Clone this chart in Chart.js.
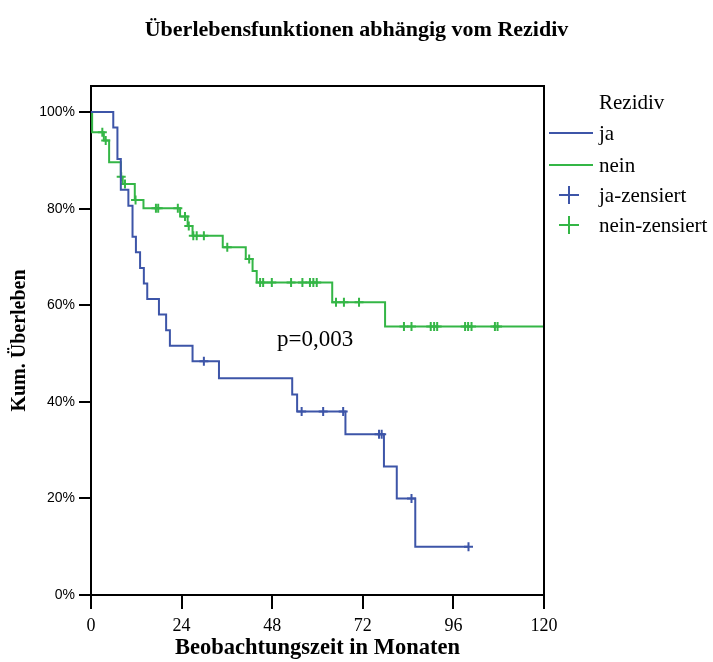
<!DOCTYPE html>
<html>
<head>
<meta charset="utf-8">
<script src="https://cdn.jsdelivr.net/npm/chart.js@4/dist/chart.umd.min.js"></script>
<style>
  html, body { margin: 0; padding: 0; background: #fff; }
  canvas { display: block; }
</style>
</head>
<body>
<canvas id="km" width="713" height="662"></canvas>
<script>
// Axis ticks
const xTicks = [0, 24, 48, 72, 96, 120];
const yTicks = [0, 20, 40, 60, 80, 100];

// Rezidiv = ja : event months and survival (%) after each event
const jaEventMonths = [5.9, 7.0, 7.9, 9.9, 11.0, 11.9, 13.0, 14.0, 14.9, 18.0, 19.9, 20.9, 26.9, 33.9, 53.3, 54.6, 67.4, 77.6, 81.0, 85.9];
const jaSurvival    = [96.8, 90.3, 83.9, 80.6, 74.2, 71.0, 67.7, 64.5, 61.3, 58.1, 54.8, 51.6, 48.4, 44.9, 41.5, 38.0, 33.3, 26.6, 20.0, 10.0];
const jaCensorMonths = [29.9, 55.8, 61.5, 66.8, 76.3, 77.0, 84.9, 100.0];
const jaLastMonth = 100.0;

// Rezidiv = nein
const neinEventMonths = [0.3, 3.4, 4.8, 7.9, 8.4, 11.6, 13.9, 23.6, 25.6, 26.9, 34.9, 41.0, 42.8, 43.9, 63.9, 77.9];
const neinSurvival    = [95.8, 94.1, 89.6, 86.6, 85.1, 81.8, 80.1, 78.4, 76.4, 74.4, 72.0, 69.6, 67.1, 64.7, 60.6, 55.6];
const neinCensorMonths = [3.0, 3.9, 8.0, 9.0, 11.8, 17.2, 17.8, 23.0, 24.9, 25.9, 27.1, 28.0, 29.9, 36.1, 41.9,
                          44.8, 45.6, 47.9, 53.0, 56.0, 58.0, 58.9, 59.8, 64.9, 67.0, 71.0,
                          82.9, 84.9, 90.0, 90.9, 91.7, 99.1, 99.9, 100.8, 107.0, 107.7];
const neinLastMonth = 120.0;

const pValueText = 'p=0,003';

const BLUE = '#3d55a8';
const GREEN = '#34b646';
const SERIF = '"Liberation Serif", "Times New Roman", serif';
const SANS = '"Liberation Sans", Arial, sans-serif';

function stepCurve(times, surv, last) {
  const pts = [{ x: 0, y: 100 }];
  times.forEach((t, i) => pts.push({ x: t, y: surv[i] }));
  pts.push({ x: last, y: surv[surv.length - 1] });
  return pts;
}
function survivalAt(t, times, surv) {
  let s = 100;
  times.forEach((tt, i) => { if (tt <= t) s = surv[i]; });
  return s;
}
function censorPoints(censors, times, surv) {
  return censors.map(t => ({ x: t, y: survivalAt(t, times, surv) }));
}

// Top/right frame of the plot box
const framePlugin = {
  id: 'frame',
  afterDatasetsDraw(chart) {
    const { ctx, chartArea: a } = chart;
    ctx.save();
    ctx.strokeStyle = '#000';
    ctx.lineWidth = 2;
    ctx.beginPath();
    ctx.moveTo(a.left, a.top);
    ctx.lineTo(a.right, a.top);
    ctx.lineTo(a.right, a.bottom);
    ctx.stroke();
    ctx.restore();
  }
};

// Title, p-value note and legend
const annotationsPlugin = {
  id: 'annotations',
  afterDraw(chart) {
    const ctx = chart.ctx;
    ctx.save();
    ctx.fillStyle = '#000';
    ctx.textBaseline = 'middle';

    ctx.font = 'bold 22px ' + SERIF;
    ctx.textAlign = 'center';
    ctx.fillText('Überlebensfunktionen abhängig vom Rezidiv', 356.5, 30);

    ctx.textAlign = 'left';
    ctx.font = '23px ' + SERIF;
    ctx.fillText(pValueText, 277, 340);

    // legend
    const tx = 599;
    ctx.font = '21px ' + SERIF;
    ctx.fillText('Rezidiv', tx, 103);

    const rows = [
      { label: 'ja', color: BLUE, kind: 'line', y: 133 },
      { label: 'nein', color: GREEN, kind: 'line', y: 165 },
      { label: 'ja-zensiert', color: BLUE, kind: 'cross', y: 195 },
      { label: 'nein-zensiert', color: GREEN, kind: 'cross', y: 225 }
    ];
    rows.forEach(r => {
      ctx.strokeStyle = r.color;
      ctx.lineWidth = 2;
      ctx.beginPath();
      if (r.kind === 'line') {
        ctx.moveTo(549, r.y);
        ctx.lineTo(593, r.y);
      } else {
        ctx.moveTo(559, r.y);
        ctx.lineTo(579, r.y);
        ctx.moveTo(569, r.y - 9);
        ctx.lineTo(569, r.y + 9);
      }
      ctx.stroke();
      ctx.fillStyle = '#000';
      ctx.fillText(r.label, tx, r.y + 1);
    });
    ctx.restore();
  }
};

new Chart(document.getElementById('km'), {
  type: 'line',
  data: {
    datasets: [
      {
        label: 'ja',
        data: stepCurve(jaEventMonths, jaSurvival, jaLastMonth),
        stepped: true,
        borderColor: BLUE,
        borderWidth: 2,
        pointRadius: 0,
        fill: false
      },
      {
        label: 'nein',
        data: stepCurve(neinEventMonths, neinSurvival, neinLastMonth),
        stepped: true,
        borderColor: GREEN,
        borderWidth: 2,
        pointRadius: 0,
        fill: false
      },
      {
        label: 'ja-zensiert',
        data: censorPoints(jaCensorMonths, jaEventMonths, jaSurvival),
        showLine: false,
        pointStyle: 'cross',
        pointRadius: 4.5,
        pointBorderWidth: 2,
        pointBorderColor: BLUE,
        borderColor: BLUE
      },
      {
        label: 'nein-zensiert',
        data: censorPoints(neinCensorMonths, neinEventMonths, neinSurvival),
        showLine: false,
        pointStyle: 'cross',
        pointRadius: 4.5,
        pointBorderWidth: 2,
        pointBorderColor: GREEN,
        borderColor: GREEN
      }
    ]
  },
  options: {
    responsive: false,
    animation: false,
    devicePixelRatio: 1,
    layout: { padding: { left: 0, top: 86, right: 169, bottom: 0 } },
    plugins: {
      legend: { display: false },
      tooltip: { enabled: false },
      title: { display: false }
    },
    scales: {
      x: {
        type: 'linear',
        min: 0,
        max: 120,
        afterBuildTicks: s => { s.ticks = xTicks.map(v => ({ value: v })); },
        afterFit: s => { s.height = 67; },
        grid: { drawOnChartArea: false, drawTicks: true, tickLength: 14, tickColor: '#000', tickWidth: 2, lineWidth: 2, color: '#000' },
        border: { display: true, color: '#000', width: 2 },
        ticks: { color: '#000', font: { family: SERIF, size: 18 }, padding: 6, maxRotation: 0, autoSkip: false },
        title: {
          display: true,
          text: 'Beobachtungszeit in Monaten',
          color: '#000',
          font: { family: SERIF, size: 22.5, weight: 'bold' },
          padding: { top: 0, bottom: 0 }
        }
      },
      y: {
        type: 'linear',
        min: 0,
        max: 105.4,
        afterBuildTicks: s => { s.ticks = yTicks.map(v => ({ value: v })); },
        afterFit: s => { s.width = 91; },
        grid: { drawOnChartArea: false, drawTicks: true, tickLength: 12, tickColor: '#000', tickWidth: 2, lineWidth: 2, color: '#000' },
        border: { display: true, color: '#000', width: 2 },
        ticks: { color: '#000', font: { family: SANS, size: 14 }, padding: 4, callback: v => v + '%' },
        title: {
          display: true,
          text: 'Kum. Überleben',
          color: '#000',
          font: { family: SERIF, size: 20, weight: 'bold' },
          padding: { top: 8, bottom: 0 }
        }
      }
    }
  },
  plugins: [framePlugin, annotationsPlugin]
});
</script>
</body>
</html>
